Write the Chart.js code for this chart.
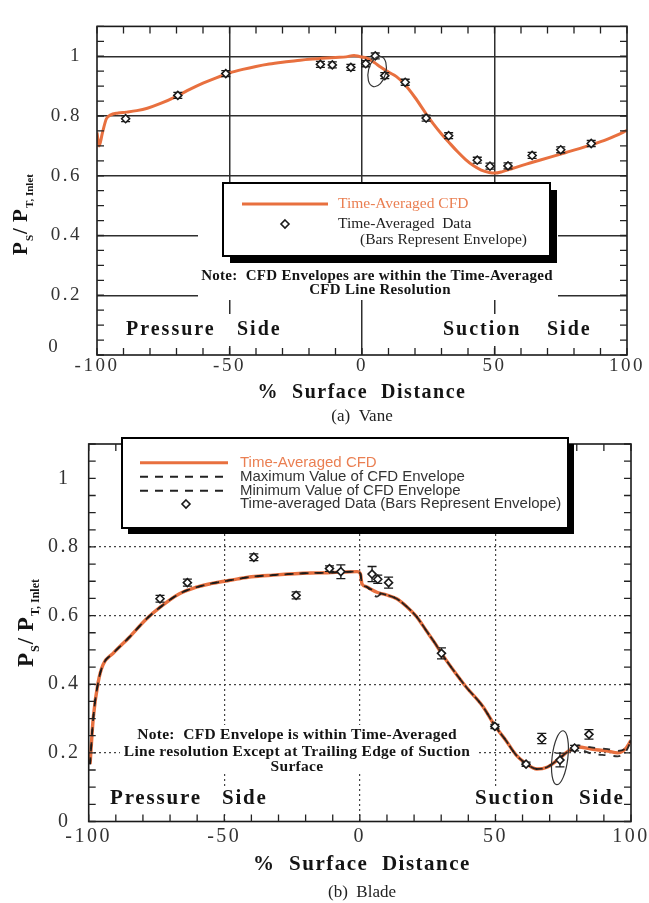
<!DOCTYPE html>
<html>
<head>
<meta charset="utf-8">
<script src="https://cdn.jsdelivr.net/npm/chart.js@4"></script>
<style>
  html, body { margin: 0; padding: 0; background: #fff; }
  body { width: 649px; height: 903px; position: relative; overflow: hidden; }
  canvas { position: absolute; left: 0; }
  #vane { top: 0; }
  #blade { top: 420px; }
</style>
</head>
<body>
<canvas id="vane" width="649" height="430" style="width:649px;height:430px"></canvas>
<canvas id="blade" width="649" height="483" style="width:649px;height:483px"></canvas>
<script>
// ---------- (a) Vane ----------
const vaneCfdX = [-100, -99.2, -98, -96.5, -95, -92, -89, -85, -81, -76, -70, -65, -60, -55, -50,
  -45, -40, -35, -30, -25, -20, -15, -10, -6, -3, -1, 1, 3, 5, 7, 10, 13, 16, 20, 24,
  27, 30, 33, 36, 39, 42, 45, 48, 50, 53, 57, 62, 67, 72, 77, 82, 87, 92, 96, 100];
const vaneCfdY = [0.745, 0.700, 0.742, 0.790, 0.803, 0.810, 0.813, 0.818, 0.826, 0.842, 0.866, 0.889, 0.910, 0.928, 0.944,
  0.956, 0.966, 0.974, 0.980, 0.985, 0.990, 0.993, 0.996, 0.998, 1.003, 0.999, 0.996, 0.989, 0.977, 0.964, 0.947, 0.932, 0.907, 0.862, 0.810,
  0.773, 0.740, 0.710, 0.681, 0.655, 0.634, 0.619, 0.611, 0.609, 0.614, 0.625, 0.639, 0.652, 0.665, 0.678, 0.691, 0.705, 0.720, 0.735, 0.752];
const vaneDataX = [-89.2, -69.5, -51.4, -15.7, -11.2, -4.2, 1.4, 5.0, 8.6, 16.3, 24.2, 32.7, 43.5, 48.3, 55.1, 64.2, 75.0, 86.5];
const vaneDataY = [0.791, 0.869, 0.942, 0.973, 0.971, 0.963, 0.975, 1.001, 0.935, 0.913, 0.793, 0.734, 0.652, 0.632, 0.633, 0.668, 0.687, 0.708];
const vaneDataEnv = [0.01, 0.01, 0.01, 0.01, 0.01, 0.01, 0.01, 0.01, 0.01, 0.01, 0.01, 0.01, 0.01, 0.01, 0.01, 0.01, 0.01, 0.01];

// ---------- (b) Blade ----------
const bladeCfdX = [-99.5, -98.3, -96.5, -94.7, -91, -85, -79, -73.4, -66.7, -60.6, -55, -50, -45, -40, -32, -24, -18, -12, -6, -1,
  0.2, 0.8, 2.5, 4, 6.3, 8, 10, 13.6, 17.3, 20.9, 24.6, 27.5, 30.1, 34.3, 39.2, 45.3, 49.8, 53.8, 57.5, 61.1,
  65.3, 69, 73.2, 76.9, 80.5, 85.4, 91.5, 95.1, 98.2, 100];
const bladeCfdY = [0.167, 0.303, 0.406, 0.457, 0.490, 0.537, 0.588, 0.626, 0.663, 0.682, 0.693, 0.700, 0.707, 0.713, 0.718, 0.722, 0.724, 0.725, 0.727, 0.728,
  0.722, 0.692, 0.684, 0.677, 0.668, 0.664, 0.660, 0.649, 0.626, 0.597, 0.555, 0.522, 0.490, 0.443, 0.392, 0.336, 0.279, 0.237, 0.195, 0.170,
  0.153, 0.158, 0.181, 0.205, 0.217, 0.211, 0.205, 0.200, 0.214, 0.236];
const bladeMaxY = [0.167, 0.303, 0.406, 0.457, 0.490, 0.537, 0.588, 0.626, 0.663, 0.682, 0.693, 0.700, 0.707, 0.713, 0.718, 0.722, 0.724, 0.725, 0.727, 0.728,
  0.722, 0.692, 0.684, 0.677, 0.670, 0.664, 0.660, 0.649, 0.626, 0.597, 0.555, 0.522, 0.490, 0.443, 0.392, 0.336, 0.279, 0.237, 0.195, 0.170,
  0.153, 0.158, 0.181, 0.205, 0.222, 0.216, 0.211, 0.206, 0.214, 0.236];
const bladeMinY = [0.167, 0.303, 0.406, 0.457, 0.490, 0.537, 0.588, 0.626, 0.663, 0.682, 0.693, 0.700, 0.707, 0.713, 0.718, 0.722, 0.724, 0.725, 0.727, 0.728,
  0.722, 0.692, 0.684, 0.672, 0.655, 0.664, 0.660, 0.649, 0.626, 0.597, 0.555, 0.522, 0.490, 0.443, 0.392, 0.336, 0.279, 0.237, 0.195, 0.170,
  0.153, 0.158, 0.181, 0.205, 0.210, 0.198, 0.193, 0.190, 0.205, 0.236];
const bladeDataX = [-73.7, -63.6, -39.1, -23.5, -11.2, -7.0, 4.5, 6.6, 10.6, 30.1, 49.8, 61.3, 67.1, 73.8, 79.2, 84.5];
const bladeDataY = [0.649, 0.696, 0.770, 0.659, 0.737, 0.728, 0.721, 0.706, 0.696, 0.490, 0.277, 0.167, 0.242, 0.179, 0.214, 0.254];
const bladeDataEnv = [0.01, 0.01, 0.01, 0.01, 0.008, 0.02, 0.022, 0.012, 0.016, 0.016, 0.006, 0.006, 0.015, 0.02, 0.008, 0.014];

// ---------- styling ----------
const SERIF = '"Liberation Serif", "Times New Roman", serif';
const SANS = '"Liberation Sans", Arial, sans-serif';
const ORANGE = '#e8703f';
const ORANGE_TEXT = '#ea7f52';
const INK = '#141414';

const toXY = (xs, ys) => xs.map((x, i) => ({ x: x, y: ys[i] }));

function txt(ctx, s, x, y, font, color, align, spacing) {
  ctx.save();
  ctx.font = font;
  ctx.fillStyle = color || INK;
  ctx.textAlign = align || 'left';
  ctx.textBaseline = 'middle';
  ctx.letterSpacing = spacing || '0px';
  ctx.fillText(s, x, y);
  ctx.restore();
}

function drawFrame(chart) {
  const { ctx, chartArea: a } = chart;
  ctx.save();
  ctx.strokeStyle = '#1a1a1a';
  ctx.lineWidth = 1.6;
  ctx.strokeRect(a.left, a.top, a.right - a.left, a.bottom - a.top);
  ctx.restore();
}

// small inward tick marks on all four sides
function drawInwardTicks(chart, len) {
  const { ctx, chartArea: a, scales: { x, y } } = chart;
  ctx.save();
  ctx.strokeStyle = '#222';
  ctx.lineWidth = 1.3;
  ctx.beginPath();
  for (let v = x.min; v <= x.max + 1e-9; v += 10) {
    const px = x.getPixelForValue(v);
    ctx.moveTo(px, a.top); ctx.lineTo(px, a.top + len);
    ctx.moveTo(px, a.bottom); ctx.lineTo(px, a.bottom - len);
  }
  for (let k = 0; k * 0.05 <= y.max + 1e-9; k++) {
    const py = y.getPixelForValue(k * 0.05);
    ctx.moveTo(a.left, py); ctx.lineTo(a.left + len, py);
    ctx.moveTo(a.right, py); ctx.lineTo(a.right - len, py);
  }
  ctx.stroke();
  ctx.restore();
}

function drawEnvelopeBars(chart, dsIndex, env) {
  const meta = chart.getDatasetMeta(dsIndex);
  const data = chart.data.datasets[dsIndex].data;
  const y = chart.scales.y, ctx = chart.ctx;
  ctx.save();
  ctx.strokeStyle = '#1a1a1a';
  ctx.lineWidth = 1.3;
  ctx.beginPath();
  meta.data.forEach((pt, i) => {
    const hi = y.getPixelForValue(data[i].y + env[i]);
    const lo = y.getPixelForValue(data[i].y - env[i]);
    ctx.moveTo(pt.x, hi); ctx.lineTo(pt.x, lo);
    ctx.moveTo(pt.x - 4.5, hi); ctx.lineTo(pt.x + 4.5, hi);
    ctx.moveTo(pt.x - 4.5, lo); ctx.lineTo(pt.x + 4.5, lo);
  });
  ctx.stroke();
  ctx.restore();
}

function drawLoop(chart, cxv, cyv, rxv, ryv, rot) {
  const { ctx, scales: { x, y } } = chart;
  const cx = x.getPixelForValue(cxv), cy = y.getPixelForValue(cyv);
  const rx = Math.abs(x.getPixelForValue(cxv + rxv) - cx);
  const ry = Math.abs(y.getPixelForValue(cyv + ryv) - cy);
  ctx.save();
  ctx.strokeStyle = '#333';
  ctx.lineWidth = 1.2;
  ctx.beginPath();
  ctx.ellipse(cx, cy, rx, ry, rot, 0, Math.PI * 2);
  ctx.stroke();
  ctx.restore();
}

function drawBox(ctx, x, y, w, h, sh) {
  ctx.save();
  ctx.fillStyle = '#000';
  ctx.fillRect(x + sh, y + sh, w, h);
  ctx.fillStyle = '#fff';
  ctx.fillRect(x, y, w, h);
  ctx.strokeStyle = '#000';
  ctx.lineWidth = 2;
  ctx.strokeRect(x, y, w, h);
  ctx.restore();
}

function diamond(ctx, x, y, r) {
  ctx.save();
  ctx.fillStyle = '#fff';
  ctx.strokeStyle = '#1a1a1a';
  ctx.lineWidth = 1.6;
  ctx.beginPath();
  ctx.moveTo(x, y - r); ctx.lineTo(x + r, y); ctx.lineTo(x, y + r); ctx.lineTo(x - r, y); ctx.closePath();
  ctx.fill(); ctx.stroke();
  ctx.restore();
}

function legendLine(ctx, x1, x2, y, color, width, dash) {
  ctx.save();
  ctx.strokeStyle = color;
  ctx.lineWidth = width;
  ctx.setLineDash(dash || []);
  ctx.beginPath(); ctx.moveTo(x1, y); ctx.lineTo(x2, y); ctx.stroke();
  ctx.restore();
}

// rotated axis title  P_S / P_T, Inlet
function drawYTitle(ctx, baseX, centerY, size) {
  const big = 'bold ' + size + 'px ' + SERIF;
  const small = 'bold ' + Math.round(size * 0.52) + 'px ' + SERIF;
  const parts = [['P', big, 0], ['S', small, size * 0.28], ['/ ', big, 0], ['P', big, 0], ['T, Inlet', small, size * 0.28]];
  ctx.save();
  ctx.translate(baseX, centerY);
  ctx.rotate(-Math.PI / 2);
  ctx.fillStyle = INK;
  ctx.textBaseline = 'alphabetic';
  ctx.letterSpacing = '0px';
  let total = 0;
  parts.forEach(p => { ctx.font = p[1]; total += ctx.measureText(p[0]).width + 1; });
  let cur = -total / 2;
  parts.forEach(p => { ctx.font = p[1]; ctx.fillText(p[0], cur, p[2]); cur += ctx.measureText(p[0]).width + 1; });
  ctx.restore();
}

function gridColor(edgeValues, color) {
  return c => (c.tick && edgeValues.indexOf(Math.round(c.tick.value * 1000) / 1000) >= 0) ? 'rgba(0,0,0,0)' : color;
}

const yTickLabel = v => (Math.abs(v) < 1e-9 ? '' : (Math.abs(v - 1) < 1e-9 ? '1' : v.toFixed(1)));

// ---------- vane chart ----------
const vaneDecor = {
  id: 'vaneDecor',
  beforeDraw(chart) { chart.ctx.letterSpacing = '2.5px'; },
  beforeDatasetsDraw(chart) {
    const ctx = chart.ctx;
    ctx.save();
    ctx.fillStyle = '#fff';
    ctx.fillRect(198, 183, 360, 117);   // legend + note block
    ctx.fillRect(120, 314, 168, 32);    // Pressure Side
    ctx.fillRect(437, 314, 162, 32);    // Suction Side
    ctx.restore();
  },
  beforeDatasetDraw(chart, args) {
    if (args.index === 1) drawEnvelopeBars(chart, 1, vaneDataEnv);
  },
  afterDatasetsDraw(chart) {
    drawLoop(chart, 5.7, 0.949, 3.3, 0.052, 0.25);
  },
  afterDraw(chart) {
    const ctx = chart.ctx;
    ctx.letterSpacing = '0px';
    drawFrame(chart);
    drawInwardTicks(chart, 7);

    // legend
    drawBox(ctx, 223, 183, 327, 73, 7);
    legendLine(ctx, 242, 328, 204, ORANGE, 3);
    txt(ctx, 'Time-Averaged CFD', 338, 204, '15.5px ' + SERIF, ORANGE_TEXT);
    diamond(ctx, 285, 224, 4);
    txt(ctx, 'Time-Averaged  Data', 338, 224, '15.5px ' + SERIF, '#222');
    txt(ctx, '(Bars Represent Envelope)', 360, 240, '15.5px ' + SERIF, '#222');

    // note
    txt(ctx, 'Note:  CFD Envelopes are within the Time-Averaged', 377, 276, 'bold 15px ' + SERIF, INK, 'center', '0.3px');
    txt(ctx, 'CFD Line Resolution', 380, 290, 'bold 15px ' + SERIF, INK, 'center', '0.3px');

    // surface sides
    const sf = 'bold 20px ' + SERIF;
    txt(ctx, 'Pressure', 126, 330, sf, INK, 'left', '2px');
    txt(ctx, 'Side', 237, 330, sf, INK, 'left', '2px');
    txt(ctx, 'Suction', 443, 330, sf, INK, 'left', '2px');
    txt(ctx, 'Side', 547, 330, sf, INK, 'left', '2px');

    // corner zero of the y axis
    txt(ctx, '0', 53, 347, '19px ' + SERIF, '#333', 'center');

    // axis titles and caption
    txt(ctx, '%  Surface  Distance', 362, 393, 'bold 20px ' + SERIF, INK, 'center', '1.5px');
    txt(ctx, '(a)  Vane', 362, 417, '17px ' + SERIF, '#222', 'center');
    drawYTitle(ctx, 27, 214, 21);
  }
};

new Chart(document.getElementById('vane'), {
  type: 'scatter',
  data: {
    datasets: [
      {
        label: 'Time-Averaged CFD',
        data: toXY(vaneCfdX, vaneCfdY),
        order: 2,
        showLine: true,
        borderColor: ORANGE,
        borderWidth: 3,
        pointRadius: 0,
        cubicInterpolationMode: 'monotone',
        fill: false
      },
      {
        label: 'Time-Averaged Data',
        data: toXY(vaneDataX, vaneDataY),
        order: 1,
        showLine: false,
        pointStyle: 'rectRot',
        pointRadius: 4,
        pointBorderWidth: 1.6,
        borderColor: '#1a1a1a',
        backgroundColor: '#fff'
      }
    ]
  },
  options: {
    responsive: false,
    animation: false,
    events: [],
    layout: { padding: { top: 12, right: 22, left: 0, bottom: 0 } },
    plugins: { legend: { display: false }, tooltip: { enabled: false } },
    scales: {
      x: {
        type: 'linear', min: -100, max: 100,
        ticks: { stepSize: 50, autoSkip: false, maxRotation: 0, padding: 0, color: '#333', font: { family: SERIF, size: 19 } },
        grid: { drawTicks: false, color: gridColor([-100, 100], '#2e2e2e'), lineWidth: 1.5 },
        border: { display: false },
        afterFit: s => { s.height = 75; }
      },
      y: {
        type: 'linear', min: 0, max: 1.1,
        ticks: { stepSize: 0.2, includeBounds: false, padding: 15, color: '#333', font: { family: SERIF, size: 19 }, callback: yTickLabel },
        grid: { drawTicks: false, color: gridColor([0], '#2e2e2e'), lineWidth: 1.5 },
        border: { display: false },
        afterFit: s => { s.width = 97; }
      }
    }
  },
  plugins: [vaneDecor]
});

// ---------- blade chart ----------
const bladeDecor = {
  id: 'bladeDecor',
  beforeDraw(chart) { chart.ctx.letterSpacing = '2.5px'; },
  beforeDatasetsDraw(chart) {
    const ctx = chart.ctx;
    ctx.save();
    ctx.fillStyle = '#fff';
    ctx.fillRect(120, 305, 356, 49);    // note block
    ctx.fillRect(104, 366, 168, 25);    // Pressure Side
    ctx.fillRect(469, 366, 160, 25);    // Suction Side
    ctx.restore();
  },
  beforeDatasetDraw(chart, args) {
    if (args.index === 3) drawEnvelopeBars(chart, 3, bladeDataEnv);
  },
  afterDatasetsDraw(chart) {
    drawLoop(chart, bladeDataX[13], bladeDataY[13] + 0.007, 2.9, 0.079, 0.12);
  },
  afterDraw(chart) {
    const ctx = chart.ctx;
    ctx.letterSpacing = '0px';
    drawFrame(chart);
    drawInwardTicks(chart, 7);

    // legend
    drawBox(ctx, 122, 18, 446, 90, 6);
    const lf = '15px ' + SANS;
    legendLine(ctx, 140, 228, 42.7, ORANGE, 3);
    txt(ctx, 'Time-Averaged CFD', 240, 42.7, lf, ORANGE_TEXT);
    legendLine(ctx, 140, 228, 56.7, '#222', 2, [8, 7]);
    txt(ctx, 'Maximum Value of CFD Envelope', 240, 56.7, lf, '#333');
    legendLine(ctx, 140, 228, 70.7, '#222', 2, [8, 7]);
    txt(ctx, 'Minimum Value of CFD Envelope', 240, 70.7, lf, '#333');
    diamond(ctx, 186, 84, 4);
    txt(ctx, 'Time-averaged Data (Bars Represent Envelope)', 240, 84, lf, '#333');

    // note
    const nf = 'bold 15.5px ' + SERIF;
    txt(ctx, 'Note:  CFD Envelope is within Time-Averaged', 297, 315, nf, INK, 'center', '0.3px');
    txt(ctx, 'Line resolution Except at Trailing Edge of Suction', 297, 331.5, nf, INK, 'center', '0.3px');
    txt(ctx, 'Surface', 297, 346.5, nf, INK, 'center', '0.3px');

    // surface sides
    const sf = 'bold 21px ' + SERIF;
    txt(ctx, 'Pressure', 110, 378.5, sf, INK, 'left', '1.8px');
    txt(ctx, 'Side', 222, 378.5, sf, INK, 'left', '1.8px');
    txt(ctx, 'Suction', 475, 378.5, sf, INK, 'left', '1.8px');
    txt(ctx, 'Side', 579, 378.5, sf, INK, 'left', '1.8px');

    // axis titles and caption
    txt(ctx, '%  Surface  Distance', 362, 445, 'bold 21px ' + SERIF, INK, 'center', '1.5px');
    txt(ctx, '(b)  Blade', 362, 473, '17px ' + SERIF, '#222', 'center');
    drawYTitle(ctx, 33, 202.5, 23);
  }
};

new Chart(document.getElementById('blade'), {
  type: 'scatter',
  data: {
    datasets: [
      {
        label: 'Time-Averaged CFD',
        data: toXY(bladeCfdX, bladeCfdY),
        order: 4,
        showLine: true,
        borderColor: ORANGE,
        borderWidth: 3.4,
        pointRadius: 0,
        cubicInterpolationMode: 'monotone',
        fill: false
      },
      {
        label: 'Maximum Value of CFD Envelope',
        data: toXY(bladeCfdX, bladeMaxY),
        order: 3,
        showLine: true,
        borderColor: 'rgba(25,25,25,0.9)',
        borderWidth: 1.8,
        borderDash: [7, 8],
        pointRadius: 0,
        cubicInterpolationMode: 'monotone',
        fill: false
      },
      {
        label: 'Minimum Value of CFD Envelope',
        data: toXY(bladeCfdX, bladeMinY),
        order: 2,
        showLine: true,
        borderColor: 'rgba(25,25,25,0.9)',
        borderWidth: 1.8,
        borderDash: [7, 8],
        borderDashOffset: 2,
        pointRadius: 0,
        cubicInterpolationMode: 'monotone',
        fill: false
      },
      {
        label: 'Time-averaged Data (Bars Represent Envelope)',
        data: toXY(bladeDataX, bladeDataY),
        order: 1,
        showLine: false,
        pointStyle: 'rectRot',
        pointRadius: 4,
        pointBorderWidth: 1.6,
        borderColor: '#1a1a1a',
        backgroundColor: '#fff'
      }
    ]
  },
  options: {
    responsive: false,
    animation: false,
    events: [],
    layout: { padding: { top: 8.3, right: 11.7, left: 0, bottom: 0 } },
    plugins: { legend: { display: false }, tooltip: { enabled: false } },
    scales: {
      x: {
        type: 'linear', min: -100, max: 100,
        ticks: { stepSize: 50, autoSkip: false, maxRotation: 0, padding: 3, color: '#333', font: { family: SERIF, size: 20 } },
        grid: { drawTicks: false, color: gridColor([-100, 100], '#444'), lineWidth: 1.2 },
        border: { display: false, dash: [2, 3] },
        afterFit: s => { s.height = 81.5; }
      },
      y: {
        type: 'linear', min: 0, max: 1.1,
        ticks: { stepSize: 0.2, includeBounds: false, padding: 12, crossAlign: 'center', color: '#333', font: { family: SERIF, size: 20 },
          callback: v => (Math.abs(v) < 1e-9 ? '0' : yTickLabel(v)) },
        grid: { drawTicks: false, color: gridColor([0, 1], '#444'), lineWidth: 1.2 },
        border: { display: false, dash: [2, 3] },
        afterFit: s => { s.width = 88.7; }
      }
    }
  },
  plugins: [bladeDecor]
});
</script>
</body>
</html>
